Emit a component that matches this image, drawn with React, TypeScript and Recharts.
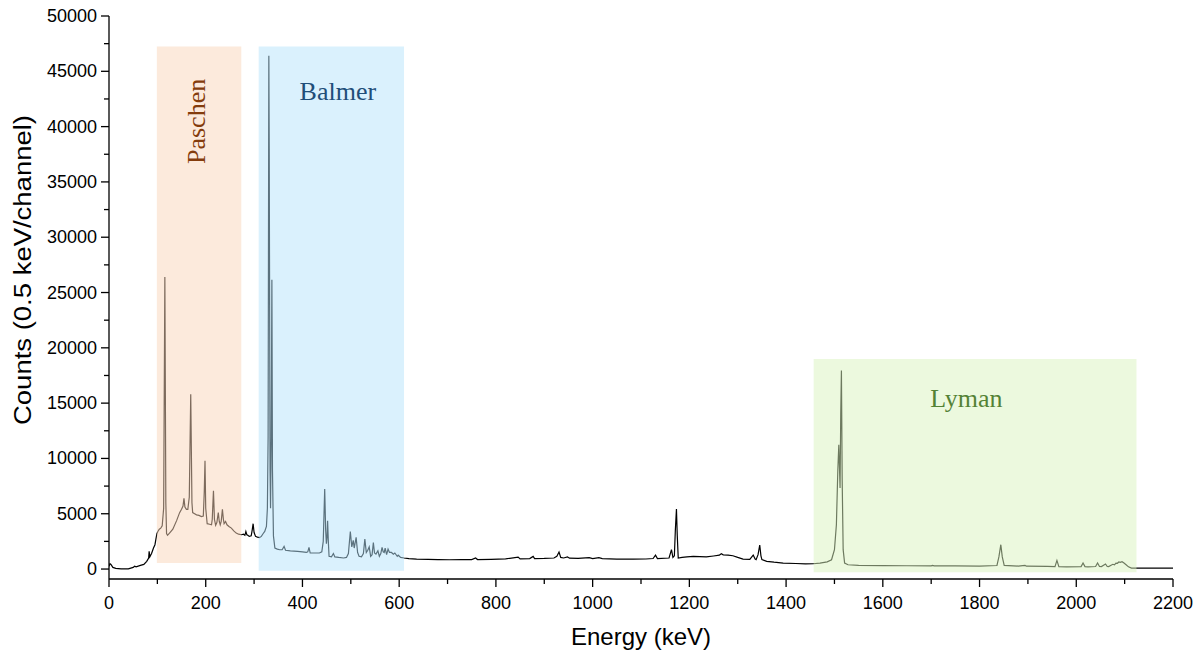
import React from 'react';
import { LineChart, Line, XAxis, YAxis, ReferenceArea, Label } from 'recharts';

// [energy keV, counts per 0.5 keV channel]
const lowEnergy: [number, number][] = [
  [0, 250], [2, 480], [4, 420], [8, 150], [14, 60], [25, 20], [40, 20], [50, 150], [53, 260], [56, 200],
  [65, 330], [72, 420], [78, 700], [82, 1000], [83, 1600], [84.5, 1100], [88, 1400], [92, 1900], [95, 2200],
  [97, 2700], [99, 3200],
];

const paschenLines: [number, number][] = [
  [101, 3400], [104, 3600], [107, 3700], [110, 3900], [113, 5500], [115.5, 26400], [117.5, 6000], [119, 3200],
  [121, 3050], [126, 3300], [132, 3600], [140, 4400], [146, 5100], [150, 5400], [153, 5700], [155, 6400],
  [157, 5600], [160, 5400], [163, 5400], [166, 6500], [169, 15800], [171.5, 6000], [173, 5100], [177, 5000],
  [181, 4900], [186, 4850], [191, 4750], [195, 4800], [197, 7000], [198.5, 9800], [200, 5500], [203, 4100],
  [208, 4050], [212, 4000], [213.5, 4500], [216, 7080], [218, 4500], [220.5, 3950], [223, 4200], [226, 5100],
  [228, 4300], [230, 4000], [232, 4300], [234.5, 5400], [236.5, 4500], [238, 4100], [241, 4300], [244, 4000],
  [248, 3850], [253, 3700], [258, 3450], [263, 3250], [268, 3150], [274, 3100], [278, 3150], [281, 3050],
  [283, 3400], [285, 3100], [287, 3050], [290, 2950], [294, 3000], [296, 3500], [298, 4100], [300, 3300],
  [303, 2950], [307, 2880], [311, 2850], [315, 2950],
];

const balmerLines: [number, number][] = [
  [318.5, 3190], [322, 3400], [325.5, 3850], [327.5, 5500], [329, 12000], [330.5, 46400], [331.3, 38000],
  [333, 9000], [334, 5500], [335.5, 12000], [336.8, 26150], [338, 9000], [340, 3000], [343, 1900], [348, 1800],
  [353, 1745], [358, 1750], [362, 2050], [365, 1700], [375, 1650], [390, 1600], [400, 1550], [408, 1500],
  [411, 1550], [413.5, 1950], [416, 1450], [425, 1450], [435, 1450], [440, 1550], [443, 2500], [446, 7230],
  [448, 3500], [449.5, 2300], [451, 3000], [452, 4370], [453.5, 2500], [455, 1150], [460, 1100], [464, 1400],
  [467, 1100], [475, 1050], [485, 1000], [491, 1050], [495, 1400], [499, 3400], [502, 2000], [505, 2600],
  [507, 1900], [511, 2860], [514, 1500], [517, 1150], [522, 1100], [526, 1400], [529, 2710], [532, 1500],
  [535, 1700], [538, 2000], [541, 1150], [544, 1300], [546.6, 2400], [549, 1450], [552, 1350], [556, 1650],
  [559, 1150], [562, 1400], [564.6, 1950], [567, 1550], [569, 1500], [571, 1900], [574, 1300], [577, 1800],
  [580, 1500], [584, 1500], [588, 1350], [591, 1450], [596, 1150], [598, 1250], [603, 1050], [610, 1000],
];

const continuumMid: [number, number][] = [
  [620, 950], [636, 900], [660, 880], [680, 860], [704, 840], [730, 850], [750, 860], [758, 1000], [762, 860],
  [790, 880], [820, 920], [846, 1080], [850, 920], [870, 950], [877, 1140], [880, 950], [900, 960], [920, 1000],
  [926, 1150], [930.5, 1540], [934, 1050], [940, 1000], [948, 1100], [952, 980], [970, 970], [993, 1030],
  [1000, 950], [1013, 1030], [1020, 950], [1050, 900], [1084, 900], [1110, 910], [1125, 950], [1130, 1260],
  [1134, 950], [1158, 1000], [1163, 1750], [1166, 1050], [1169, 1200], [1171, 3500], [1173.3, 5420],
  [1175, 3000], [1177, 1000], [1185, 1050], [1195, 1100], [1208, 1140], [1235, 1100], [1250, 1180],
  [1262, 1250], [1266, 1380], [1270, 1280], [1280, 1250], [1290, 1200], [1300, 1050], [1311, 900], [1325, 880],
  [1332, 1260], [1336, 900], [1338, 850], [1342, 1300], [1345.5, 2170], [1348, 1200], [1350, 850], [1360, 700],
  [1375, 620], [1394, 540], [1420, 500], [1440, 470], [1456, 480],
];

const lymanLines: [number, number][] = [
  [1470, 540], [1485, 650], [1494, 840], [1500, 1750], [1504, 4000], [1507, 9000], [1509, 11240],
  [1511.6, 7320], [1513, 14000], [1514.4, 17960], [1516, 8000], [1518, 1750], [1521, 540], [1528, 390],
  [1550, 330], [1600, 310], [1650, 300], [1700, 290], [1703, 330], [1706, 290], [1750, 280], [1800, 270],
  [1836, 320], [1840, 1100], [1844, 2200], [1847, 1100], [1851, 330], [1880, 270], [1894, 330], [1897, 260],
  [1940, 240], [1956, 220], [1960, 780], [1964, 220], [1980, 200], [2010, 220], [2014, 540], [2018, 220],
  [2024, 200], [2040, 230], [2044, 540], [2048, 230], [2052, 220], [2060.5, 460], [2064, 230], [2067, 220],
  [2072, 350], [2075.6, 430], [2079, 380], [2082, 540], [2085, 520], [2088, 640], [2091, 600], [2094.6, 660],
  [2098, 560], [2103, 390], [2108, 200], [2114, 80], [2130, 80], [2152, 90], [2200, 90],
];

const xTicks = [0, 100, 200, 300, 400, 500, 600, 700, 800, 900, 1000, 1100, 1200, 1300, 1400, 1500, 1600, 1700, 1800, 1900, 2000, 2100, 2200];
const yTicks = [0, 2500, 5000, 7500, 10000, 12500, 15000, 17500, 20000, 22500, 25000, 27500, 30000, 32500, 35000, 37500, 40000, 42500, 45000, 47500, 50000];

const seriesNames = ['Paschen', 'Balmer', 'Lyman'];
const seriesKeV: [number, number][] = [[99, 273.5], [309.5, 610], [1457, 2124.5]];
const seriesCounts: [number, number][] = [[540, 47250], [-150, 47250], [-300, 18990]];

const spectrum = [...lowEnergy, ...paschenLines, ...balmerLines, ...continuumMid, ...lymanLines].map(
  ([energy, counts]) => ({ energy, counts })
);

const SANS = '"Liberation Sans", Arial, sans-serif';
const SERIF = '"Liberation Serif", "Times New Roman", serif';

const regionFill = ['#F9D5B9', '#B5E3FB', '#D9F3BD'];
const regionText = ['#843C0C', '#1F4E79', '#548235'];

const TICK_SIZE = 8;
const TICK_MARGIN = 5;

const XTick = (props: any) => {
  const { x, y, payload } = props;
  const ay = y - TICK_SIZE - TICK_MARGIN;
  const major = payload.value % 200 === 0;
  return (
    <g>
      <line x1={x} x2={x} y1={ay} y2={ay + (major ? 8 : 5)} stroke="#000" strokeWidth={1.3} />
      {major && (
        <text x={x} y={ay + 24} textAnchor="middle" dominantBaseline="central" fontFamily={SANS} fontSize={18} fill="#000">
          {payload.value}
        </text>
      )}
    </g>
  );
};

const YTick = (props: any) => {
  const { x, y, payload } = props;
  const ax = x + TICK_SIZE + TICK_MARGIN;
  const major = payload.value % 5000 === 0;
  return (
    <g>
      <line x1={ax - (major ? 8 : 5)} x2={ax} y1={y} y2={y} stroke="#000" strokeWidth={1.3} />
      {major && (
        <text x={ax - 12} y={y} textAnchor="end" dominantBaseline="central" fontFamily={SANS} fontSize={18} fill="#000">
          {payload.value}
        </text>
      )}
    </g>
  );
};

const xTitle = (props: any) => {
  const vb = props.viewBox;
  return (
    <text x={vb.x + vb.width / 2} y={vb.y + 57} textAnchor="middle" dominantBaseline="central" fontFamily={SANS} fontSize={24} fill="#000">
      Energy (keV)
    </text>
  );
};

const yTitle = (props: any) => {
  const vb = props.viewBox;
  const cx = vb.x - 16.5;
  const cy = vb.y + 254;
  return (
    <text
      x={cx}
      y={cy}
      transform={`rotate(-90 ${cx} ${cy})`}
      textAnchor="middle"
      dominantBaseline="central"
      fontFamily={SANS}
      fontSize={23}
      textLength={310}
      lengthAdjust="spacingAndGlyphs"
      fill="#000"
    >
      Counts (0.5 keV/channel)
    </text>
  );
};

const regionLabel = (i: number) => (props: any) => {
  const vb = props.viewBox;
  const midX = vb.x + vb.width / 2;
  if (i === 0) {
    const cx = midX - 2.7;
    const cy = vb.y + 75;
    return (
      <text x={cx} y={cy} transform={`rotate(-90 ${cx} ${cy})`} textAnchor="middle" dominantBaseline="central" fontFamily={SERIF} fontSize={26} fill={regionText[i]}>
        {seriesNames[i]}
      </text>
    );
  }
  const dx = i === 1 ? 6.5 : -8.6;
  const dy = i === 1 ? 53.6 : 47.7;
  return (
    <text x={midX + dx} y={vb.y + dy} textAnchor="middle" fontFamily={SERIF} fontSize={26} fill={regionText[i]}>
      {seriesNames[i]}
    </text>
  );
};

export default function App() {
  return (
    <div style={{ width: 1196, height: 652, marginTop: -8 }}>
      <LineChart width={1196} height={652} data={spectrum} margin={{ top: 16, right: 31, bottom: 0, left: 31 }}>
        <XAxis
          dataKey="energy"
          type="number"
          domain={[0, 2200]}
          ticks={xTicks}
          interval={0}
          allowDataOverflow
          height={73}
          tickSize={TICK_SIZE}
          tickMargin={TICK_MARGIN}
          tickLine={false}
          tick={<XTick />}
          axisLine={{ stroke: '#000', strokeWidth: 1.3 }}
        >
          <Label content={xTitle} />
        </XAxis>
        <YAxis
          type="number"
          domain={[-900, 50000]}
          ticks={yTicks}
          interval={0}
          allowDataOverflow
          width={70}
          tickSize={TICK_SIZE}
          tickMargin={TICK_MARGIN}
          tickLine={false}
          tick={<YTick />}
          axisLine={{ stroke: '#000', strokeWidth: 1.3 }}
        >
          <Label content={yTitle} />
        </YAxis>
        <Line
          type="linear"
          dataKey="counts"
          stroke="#000"
          strokeWidth={1.2}
          dot={false}
          activeDot={false}
          isAnimationActive={false}
        />
        {seriesNames.map((name, i) => (
          <ReferenceArea
            key={name}
            x1={seriesKeV[i][0]}
            x2={seriesKeV[i][1]}
            y1={seriesCounts[i][0]}
            y2={seriesCounts[i][1]}
            fill={regionFill[i]}
            fillOpacity={0.5}
            stroke="none"
            zIndex={450}
            isFront
          >
            <Label content={regionLabel(i)} />
          </ReferenceArea>
        ))}
      </LineChart>
    </div>
  );
}
